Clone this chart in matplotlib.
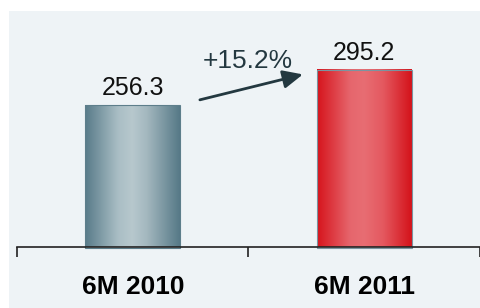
import numpy as np
import matplotlib
matplotlib.use('Agg')
import matplotlib.pyplot as plt
from matplotlib.colors import LinearSegmentedColormap
from matplotlib.patches import Rectangle

# data
categories = ['6M 2010', '6M 2011']
values = [256.3, 295.2]
growth_label = '+15.2%'

plt.rcParams['font.family'] = ['Liberation Sans', 'DejaVu Sans']

fig = plt.figure(figsize=(4.81, 3.08), dpi=100)
fig.patch.set_facecolor('white')
# light panel behind the chart
fig.patches.append(Rectangle((9 / 481, 0), 1, 297 / 308, transform=fig.transFigure,
                             facecolor='#eef3f6', edgecolor='none', zorder=-10))

ax = fig.add_axes([17 / 481, 61 / 308, 463 / 481, 236 / 308])
ax.set_facecolor('none')

x = np.arange(len(categories)) + 0.5
bars = ax.bar(x, values, width=0.41, bottom=0, color='none', zorder=2)
ax.set_xlim(0, 2)
ax.set_ylim(100, 359.8)

# horizontal gradient fill for each bar: dark edges, light middle
cmaps = [
    LinearSegmentedColormap.from_list('g', [(0, '#587b89'), (0.35, '#aabec5'), (0.5, '#b7c8cd'),
                                             (0.65, '#a4b8bf'), (1, '#567987')]),
    LinearSegmentedColormap.from_list('r', [(0, '#d6141c'), (0.35, '#e6666d'), (0.5, '#e86d73'),
                                             (0.7, '#e4585f'), (1, '#d4121a')]),
]
edge_cols = ['#5d7e8b', '#7a94a0']
grad = np.linspace(0, 1, 256).reshape(1, -1)
for rect, cm, ec in zip(bars, cmaps, edge_cols):
    x0, y0 = rect.get_x(), 99
    w, h = rect.get_width(), rect.get_height()
    im = ax.imshow(grad, cmap=cm, aspect='auto', extent=(x0, x0 + w, y0, h),
                   zorder=2, interpolation='bicubic')
    ax.add_patch(Rectangle((x0, y0), w, h - y0, facecolor='none', edgecolor=ec,
                           linewidth=0.8, zorder=3, clip_on=False))

for xi, v in zip(x, values):
    ax.text(xi, v + 5, f'{v:.1f}', ha='center', va='bottom', fontsize=18, color='#111111')

# growth arrow
ax.annotate('', xy=(1.235, 290), xytext=(0.79, 262),
            arrowprops=dict(arrowstyle='-|>,head_length=1.2,head_width=0.55',
                            color='#233840', lw=2, shrinkA=0, shrinkB=0), zorder=4)
ax.text(0.995, 297, growth_label, ha='center', va='baseline', fontsize=19, color='#233840')

for s in ['top', 'right', 'left']:
    ax.spines[s].set_visible(False)
ax.spines['bottom'].set_color('#222222')
ax.spines['bottom'].set_linewidth(1.2)
ax.spines['bottom'].set_zorder(5)
ax.set_yticks([])
ax.set_xticks([0, 1, 2])
ax.set_xticklabels([])
ax.tick_params(axis='x', which='major', length=7, width=1.2, color='#222222', direction='out')
ax.set_xticks(x, minor=True)
ax.set_xticklabels(categories, minor=True, fontsize=19, fontweight='bold')
ax.tick_params(axis='x', which='minor', length=0, pad=20)

fig.savefig('out.png', dpi=100)
